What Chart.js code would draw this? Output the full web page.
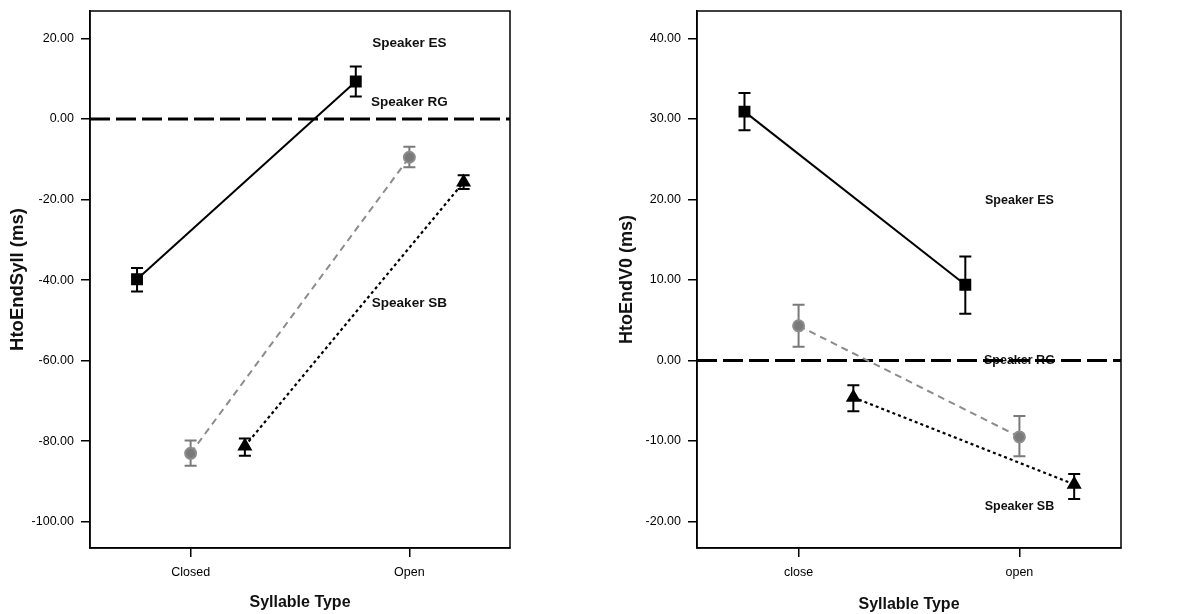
<!DOCTYPE html>
<html>
<head>
<meta charset="utf-8">
<script src="https://cdn.jsdelivr.net/npm/chart.js@4.4.1/dist/chart.umd.min.js"></script>
<style>
  body { margin: 0; background: #fff; }
  #left { position: absolute; left: 0; top: 0; }
  #right { position: absolute; left: 600px; top: 0; }
</style>
</head>
<body>
<canvas id="left" width="600" height="614"></canvas>
<canvas id="right" width="604" height="614"></canvas>
<script>
// categories
const syllCats = ['Closed', 'Open'];
const v0Cats = ['close', 'open'];
const speakers = ['Speaker ES', 'Speaker RG', 'Speaker SB'];
// horizontal offset of each speaker within a category
const offsets = [-0.245, 0, 0.248];

// HtoEndSyll (ms), left panel
const syllES = [-39.8, 9.3];
const syllESLo = [-42.8, 5.6];
const syllESHi = [-37.0, 13.0];
const syllRG = [-83.0, -9.5];
const syllRGLo = [-86.1, -12.0];
const syllRGHi = [-79.8, -6.9];
const syllSB = [-81.2, -15.7];
const syllSBLo = [-83.6, -17.4];
const syllSBHi = [-79.3, -14.0];
const syllTicks = [-100, -80, -60, -40, -20, 0, 20];
const syllLabelY = [18.8, 4.1, -45.7];

// HtoEndV0 (ms), right panel
const v0ES = [30.9, 9.4];
const v0ESLo = [28.6, 5.8];
const v0ESHi = [33.2, 12.9];
const v0RG = [4.3, -9.5];
const v0RGLo = [1.7, -11.9];
const v0RGHi = [6.9, -6.9];
const v0SB = [-4.6, -15.4];
const v0SBLo = [-6.3, -17.2];
const v0SBHi = [-3.1, -14.1];
const v0Ticks = [-20, -10, 0, 10, 20, 30, 40];
const v0LabelY = [19.9, 0, -18.1];

const FONT = "'Liberation Sans', Arial, sans-serif";
const GREY = '#7a7a7a';

function pts(vals, s) {
    return vals.map((y, i) => ({ x: i + offsets[s], y }));
}

const extrasPlugin = {
    id: 'extras',
    beforeDatasetsDraw(chart) {
        const { ctx, scales: { x, y } } = chart;
        const o = chart.options.plugins.extras;
        // speaker labels
        ctx.save();
        ctx.fillStyle = '#111';
        ctx.font = o.labelFont;
        ctx.textAlign = 'center';
        ctx.textBaseline = 'middle';
        speakers.forEach((t, i) => {
            ctx.fillText(t, x.getPixelForValue(1), y.getPixelForValue(o.labelY[i]));
        });
        // error bars
        o.bars.forEach(b => {
            ctx.strokeStyle = b.color;
            ctx.lineWidth = 2;
            b.lo.forEach((lo, i) => {
                const px = x.getPixelForValue(i + offsets[b.s]);
                const p1 = y.getPixelForValue(lo);
                const p2 = y.getPixelForValue(b.hi[i]);
                ctx.beginPath();
                ctx.moveTo(px, p1); ctx.lineTo(px, p2);
                ctx.moveTo(px - 6, p1); ctx.lineTo(px + 6, p1);
                ctx.moveTo(px - 6, p2); ctx.lineTo(px + 6, p2);
                ctx.stroke();
            });
        });
        ctx.restore();
    },
    afterDraw(chart) {
        const { ctx, chartArea: a } = chart;
        ctx.save();
        ctx.strokeStyle = '#000';
        ctx.lineWidth = 1.5;
        ctx.strokeRect(a.left, a.top, a.right - a.left, a.bottom - a.top);
        ctx.restore();
    }
};

function makeChart(id, cfg) {
    const lineSets = [
        { data: pts(cfg.es, 0), borderColor: '#000', backgroundColor: '#000', borderWidth: 2,
          pointStyle: 'rect', pointRadius: 7 },
        { data: pts(cfg.rg, 1), borderColor: '#8c8c8c', backgroundColor: GREY, borderWidth: 2,
          borderDash: [7, 5], pointStyle: 'circle', pointRadius: 5.5 },
        { data: pts(cfg.sb, 2), borderColor: '#000', backgroundColor: '#000', borderWidth: 2.2,
          borderDash: [3, 3], pointStyle: 'triangle', pointRadius: 6.5 },
        { data: [{ x: -0.46, y: 0 }, { x: 1.46, y: 0 }], borderColor: '#000', borderWidth: 3,
          borderDash: [20, 6], pointRadius: 0 }
    ];
    return new Chart(document.getElementById(id), {
        type: 'scatter',
        data: { datasets: lineSets.map(d => Object.assign({ showLine: true, fill: false }, d)) },
        plugins: [extrasPlugin],
        options: {
            responsive: false,
            animation: false,
            layout: { padding: { top: 11, right: cfg.padRight, left: 0, bottom: 0 } },
            plugins: {
                legend: { display: false },
                tooltip: { enabled: false },
                extras: { labelY: cfg.labelY, labelFont: cfg.labelFont, bars: cfg.bars }
            },
            scales: {
                x: {
                    type: 'linear', min: -0.46, max: 1.46,
                    afterBuildTicks: s => { s.ticks = [{ value: 0 }, { value: 1 }]; },
                    afterFit: s => { s.height = 66; },
                    grid: { drawOnChartArea: false, drawTicks: true, tickLength: 9, color: '#000', lineWidth: 1.5 },
                    border: { display: true, color: '#000', width: 1.5 },
                    ticks: { padding: 8, color: '#000', font: { family: FONT, size: 12.5 },
                             callback: v => cfg.cats[v] },
                    title: { display: true, text: 'Syllable Type', color: '#111',
                             font: { family: FONT, size: 16, weight: 'bold' }, padding: { bottom: cfg.xTitlePad } }
                },
                y: {
                    min: cfg.yMin, max: cfg.yMax,
                    afterBuildTicks: s => { s.ticks = cfg.ticks.map(v => ({ value: v })); },
                    afterFit: s => { s.width = cfg.yWidth; s.paddingTop = 0; s.paddingBottom = 0; },
                    grid: { drawOnChartArea: false, drawTicks: true, tickLength: 9, color: '#000', lineWidth: 1.5 },
                    border: { display: true, color: '#000', width: 1.5 },
                    ticks: { padding: 7, color: '#000', font: { family: FONT, size: 12.5 },
                             callback: v => v.toFixed(2) },
                    title: { display: true, text: cfg.yTitle, color: '#111',
                             font: { family: FONT, size: cfg.yTitleSize, weight: 'bold' }, padding: { top: cfg.yTitlePad } }
                }
            }
        }
    });
}

makeChart('left', {
    cats: syllCats, es: syllES, rg: syllRG, sb: syllSB,
    bars: [
        { s: 0, lo: syllESLo, hi: syllESHi, color: '#000' },
        { s: 1, lo: syllRGLo, hi: syllRGHi, color: GREY },
        { s: 2, lo: syllSBLo, hi: syllSBHi, color: '#000' }
    ],
    labelY: syllLabelY, labelFont: 'bold 13.5px ' + FONT,
    ticks: syllTicks, yMin: -106.5, yMax: 26.8,
    yTitle: 'HtoEndSyll (ms)', yTitleSize: 18.5, yWidth: 90, padRight: 90, yTitlePad: 7, xTitlePad: 2
});

makeChart('right', {
    cats: v0Cats, es: v0ES, rg: v0RG, sb: v0SB,
    bars: [
        { s: 0, lo: v0ESLo, hi: v0ESHi, color: '#000' },
        { s: 1, lo: v0RGLo, hi: v0RGHi, color: GREY },
        { s: 2, lo: v0SBLo, hi: v0SBHi, color: '#000' }
    ],
    labelY: v0LabelY, labelFont: 'bold 12.5px ' + FONT,
    ticks: v0Ticks, yMin: -23.3, yMax: 43.4,
    yTitle: 'HtoEndV0 (ms)', yTitleSize: 18, yWidth: 97, padRight: 83, yTitlePad: 16, xTitlePad: 0
});
</script>
</body>
</html>
